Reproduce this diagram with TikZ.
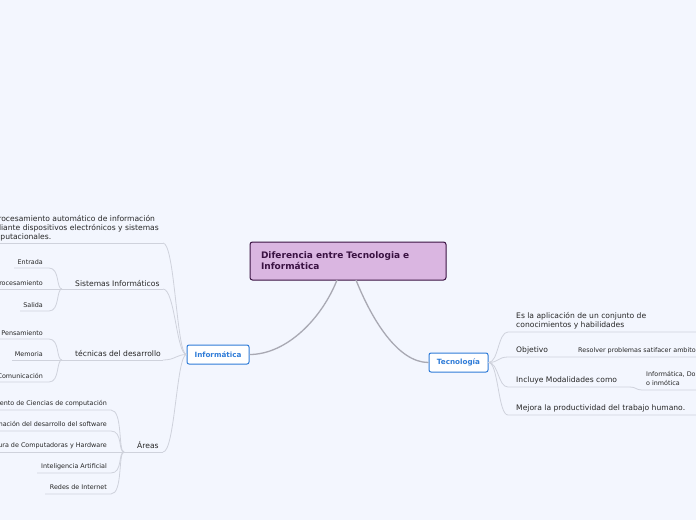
\documentclass[tikz,border=0pt]{standalone}
\usepackage{fontspec}
\setmainfont{DejaVu Sans}
\usepackage{xcolor}
\usetikzlibrary{positioning}

\definecolor{bgblue}{HTML}{F3F6FE}
\definecolor{rootfill}{HTML}{DAB6E1}
\definecolor{rootdark}{HTML}{3A1242}
\definecolor{topicblue}{HTML}{2F7CD8}
\definecolor{linegray}{HTML}{CFD2DC}
\definecolor{trunkgray}{HTML}{A9A9B3}
\definecolor{textgray}{HTML}{262626}

\begin{document}
\begin{tikzpicture}[
  x=1pt, y=-1pt,
  root/.style={rectangle, rounded corners=2.5pt, draw=rootdark, line width=1pt, fill=rootfill,
    text=rootdark, font=\bfseries\fontsize{9}{11}\selectfont, align=left,
    text width=174pt, minimum height=38pt, inner xsep=11pt, inner ysep=0pt},
  topic/.style={rectangle, rounded corners=2pt, draw=topicblue, line width=1pt, fill=white,
    text=topicblue, font=\bfseries\fontsize{7.2}{8}\selectfont, minimum height=19pt, inner xsep=0pt},
  txt/.style={anchor=base west, inner sep=0pt, align=left, text=textgray, font=\fontsize{7.6}{9}\selectfont},
  subtxt/.style={anchor=base east, inner sep=0pt, align=right, text=textgray, font=\fontsize{6.4}{8}\selectfont},
  subtxtr/.style={anchor=base west, inner sep=0pt, align=left, text=textgray, font=\fontsize{6.4}{9}\selectfont},
  branch/.style={draw=linegray, line width=0.8pt},
  trunk/.style={draw=trunkgray, line width=1.3pt}
]
  \useasboundingbox (0,0) rectangle (696,520);
  \clip (0,0) rectangle (696,520);
  \fill[bgblue] (0,0) rectangle (696,520);

  % main nodes
  \node[root] (root) at (348,261) {Diferencia entre Tecnologia e\\Informática};
  \node[topic, minimum width=62pt] (inf) at (218,354.5) {Informática};
  \node[topic, minimum width=59pt] (tec) at (458.5,362.5) {Tecnología};

  \coordinate (rootL) at (337,280);
  \coordinate (rootR) at (356,280);
  \draw[trunk] (rootL) .. controls (322,318) and (287,354.5) .. (inf.east);
  \draw[trunk] (rootR) .. controls (372,320) and (398,362.5) .. (tec.west);

  % Informatica: left branches
  \coordinate (defL) at (-20,243);  \coordinate (defR) at (163,243);
  \coordinate (sisL) at (62,289);   \coordinate (sisR) at (163,289);
  \coordinate (desL) at (62,360);   \coordinate (desR) at (163,360);
  \coordinate (areL) at (124,452);  \coordinate (areR) at (163,452);

  \node[txt] (def) at (-16,239) {El procesamiento automático de información\\mediante dispositivos electrónicos y sistemas\\computacionales.};
  \node[txt] (sis) at (75,286) {Sistemas Informáticos};
  \node[txt] (des) at (75,356.5) {técnicas del desarrollo};
  \node[txt] (are) at (137,448.5) {Áreas};

  \draw[branch] (defL) -- (defR);
  \draw[branch] (sisL) -- (sisR);
  \draw[branch] (desL) -- (desR);
  \draw[branch] (areL) -- (areR);
  \foreach \b in {defR, sisR, desR, areR}
    \draw[branch] (\b) .. controls +(12,0) and +(-10,0) .. (inf.west);

  % Sistemas Informaticos
  \node[subtxt] (ent) at (43,264.5) {Entrada};
  \node[subtxt] (pro) at (43,285.5) {Procesamiento};
  \node[subtxt] (sal) at (43,307.5) {Salida};
  \coordinate (entL) at (14,268);  \coordinate (entR) at (49,268);
  \coordinate (proL) at (-20,289);
  \coordinate (salL) at (20,311);  \coordinate (salR) at (49,311);
  \draw[branch] (entL) -- (entR) .. controls +(11,0) and +(-6,0) .. (sisL);
  \draw[branch] (proL) -- (sisL);
  \draw[branch] (salL) -- (salR) .. controls +(11,0) and +(-6,0) .. (sisL);

  % tecnicas del desarrollo
  \node[subtxt] (pen) at (43,335.5) {Pensamiento};
  \node[subtxt] (mem) at (43,356.5) {Memoria};
  \node[subtxt] (com) at (43,378) {Comunicación};
  \coordinate (penL) at (-20,339); \coordinate (penR) at (49,339);
  \coordinate (memL) at (12,360);
  \coordinate (comL) at (-20,382); \coordinate (comR) at (49,382);
  \draw[branch] (penL) -- (penR) .. controls +(11,0) and +(-6,0) .. (desL);
  \draw[branch] (memL) -- (desL);
  \draw[branch] (comL) -- (comR) .. controls +(11,0) and +(-6,0) .. (desL);

  % Areas
  \node[subtxt] (fun) at (107,405.5) {Fundamento de Ciencias de computación};
  \node[subtxt] (prg) at (107,426.5) {Programación del desarrollo del software};
  \node[subtxt] (arq) at (107,447.5) {Arquitectura de Computadoras y Hardware};
  \node[subtxt] (ia)  at (107,468.5) {Inteligencia Artificial};
  \node[subtxt] (red) at (107,489.5) {Redes de Internet};
  \coordinate (funL) at (-20,410); \coordinate (funR) at (111,410);
  \coordinate (prgL) at (-20,431); \coordinate (prgR) at (111,431);
  \coordinate (arqL) at (-20,452);
  \coordinate (iaL) at (37,473);   \coordinate (iaR) at (111,473);
  \coordinate (redL) at (45,494);  \coordinate (redR) at (111,494);
  \draw[branch] (arqL) -- (areL);
  \foreach \s in {fun, prg, ia, red}
    \draw[branch] (\s L) -- (\s R) .. controls +(12,0) and +(-6,0) .. (areL);

  % Tecnologia: right branches
  \node[txt] (apl) at (516,327.5) {Es la aplicación de un conjunto de\\conocimientos y habilidades};
  \node[txt] (obj) at (516,352.5) {Objetivo};
  \node[txt] (mod) at (516,382.5) {Incluye Modalidades como};
  \node[txt] (mej) at (516,410.5) {Mejora la productividad del trabajo humano.};
  \node[subtxtr] (res) at (578,352.5) {Resolver problemas satifacer ambitos};
  \node[subtxtr] (dom) at (646,385.5) {Informática, Domótica\\o inmótica};

  \coordinate (aplL) at (508,332); \coordinate (aplR) at (720,332);
  \coordinate (objL) at (508,357); \coordinate (objR) at (720,357);
  \coordinate (modL) at (508,387); \coordinate (modR) at (630,387);
  \coordinate (domL) at (642,390); \coordinate (domR) at (720,390);
  \coordinate (mejL) at (508,415); \coordinate (mejR) at (720,415);
  \foreach \t in {apl, obj, mod, mej}
    \draw[branch] (tec.east) .. controls +(10,0) and +(-10,0) .. (\t L) -- (\t R);
  \draw[branch] (modR) .. controls +(6,0) and +(-6,0) .. (domL) -- (domR);
\end{tikzpicture}
\end{document}
